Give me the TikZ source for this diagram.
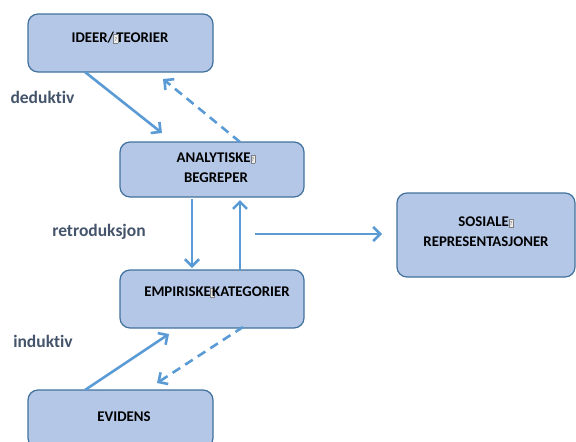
\documentclass[tikz,border=0pt]{standalone}
\usepackage{fontspec}
\setmainfont[Ligatures=NoCommon]{Carlito}
\usetikzlibrary{arrows.meta}
\definecolor{boxfill}{HTML}{B4C7E7}
\definecolor{boxline}{HTML}{41719C}
\definecolor{arr}{HTML}{5B9BD5}
\definecolor{lbl}{HTML}{44546A}
\newcommand\tofu{{\fboxsep=0.3pt\fboxrule=0.5pt\fcolorbox{gray}{gray!15}{\makebox[3.2pt]{\rule{0pt}{7.5pt}\raisebox{1pt}{\textcolor{gray}{\fontsize{5.5}{5.5}\selectfont ?}}}}}}
\begin{document}
\begin{tikzpicture}[x=1pt,y=-1pt,
 boxnode/.style={draw=boxline,fill=boxfill,line width=1.2pt,rounded corners=10pt,inner sep=0pt},
 boxtext/.style={font=\fontsize{14.8}{20}\selectfont\bfseries,align=center,inner sep=0pt},
 lbltext/.style={font=\fontsize{17.5}{20}\selectfont\bfseries,text=lbl,inner sep=0pt},
 conn/.style={draw=arr,line width=2.6pt,-{Straight Barb[length=7pt,width=14pt,line width=2.6pt]}},
 dashconn/.style={conn,dash pattern=on 9pt off 6pt}]
\useasboundingbox (0,0) rectangle (576,442);
% boxes
\node[boxnode,minimum width=185pt,minimum height=58pt] (ideer) at (120.5,43) {};
\node[boxnode,minimum width=184pt,minimum height=55pt] (analyt) at (212,169.5) {};
\node[boxnode,minimum width=178pt,minimum height=84pt] (sosiale) at (486,235) {};
\node[boxnode,minimum width=184pt,minimum height=58pt] (empir) at (212,299) {};
\node[boxnode,minimum width=185pt,minimum height=58pt] (evid) at (120.5,419) {};
% box texts
\node[boxtext] (tideer) at (120,38) {IDEER/\kern-0.5pt\tofu\kern-2pt TEORIER};
\node[boxtext] (tanalyt) at (216,168) {ANALYTISKE\tofu\\BEGREPER};
\node[boxtext] (tsosiale) at (486,232) {SOSIALE\tofu\\REPRESENTASJONER};
\node[boxtext] (tempir) at (217,292) {EMPIRISKE\kern-1pt\tofu\kern-2.5pt KATEGORIER};
\node[boxtext] (tevid) at (124,417) {EVIDENS};
% labels
\node[lbltext] (ldeduktiv) at (42.5,97) {deduktiv};
\node[lbltext] (lretro) at (99,232) {retroduksjon};
\node[lbltext] (linduktiv) at (43,341) {induktiv};
% connector end points
\coordinate (a1) at (85,72);
\coordinate (a2) at (162,133);
\coordinate (b1) at (240,142);
\coordinate (b2) at (163,79);
\coordinate (c1) at (192,199);
\coordinate (c2) at (192,268);
\coordinate (d1) at (240,270);
\coordinate (d2) at (240,200);
\coordinate (e1) at (255,234);
\coordinate (e2) at (382,234);
\coordinate (f1) at (85,390);
\coordinate (f2) at (169,334);
\coordinate (g1) at (243,327);
\coordinate (g2) at (157,383);
% connectors
\draw[conn] (a1) -- (a2);
\draw[dashconn] (b1) -- (b2);
\draw[conn] (c1) -- (c2);
\draw[conn] (d1) -- (d2);
\draw[conn] (e1) -- (e2);
\draw[conn] (f1) -- (f2);
\draw[dashconn] (g1) -- (g2);
\end{tikzpicture}
\end{document}
